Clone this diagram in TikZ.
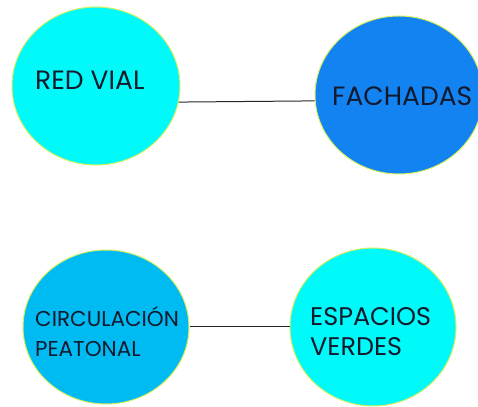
\documentclass[tikz,border=0pt]{standalone}
\usepackage{fontspec}
\setmainfont{Poppins}
\usepackage{tikz}
\usetikzlibrary{positioning,shapes.geometric}

\definecolor{ringcol}{HTML}{D8F060}
\definecolor{cyanfill}{HTML}{00FAFA}
\definecolor{bluefill}{HTML}{1283F0}
\definecolor{skyfill}{HTML}{00BBF2}
\definecolor{textcol}{HTML}{141A2E}

\begin{document}
\begin{tikzpicture}[
x=1pt, y=1pt,
bubble/.style={ellipse, draw=ringcol, line width=1pt, inner sep=0pt, minimum width=168pt, minimum height=158pt},
tag/.style={align=left, text=textcol, inner sep=0pt, font=\fontsize{26.5}{30}\selectfont},
smalltag/.style={tag, font=\fontsize{21.5}{30}\selectfont},
midtag/.style={tag, font=\fontsize{25.5}{30}\selectfont},
link/.style={draw=black!85, line width=1pt}
]
\useasboundingbox (0,0) rectangle (478,406);
\node[bubble, fill=cyanfill] (redvial) at (96,320) {};
\node[bubble, fill=bluefill] (fachadas) at (399,311) {};
\node[bubble, fill=skyfill, minimum width=166pt, minimum height=154pt] (circulacion) at (106,79) {};
\node[bubble, fill=cyanfill, minimum width=166pt, minimum height=158pt] (espacios) at (373,79) {};

\node[tag, anchor=west] (redvialtxt) at (35,326) {RED VIAL};
\node[tag, anchor=west] (fachadastxt) at (332,310) {FACHADAS};
\node[smalltag, anchor=west] (circulaciontxt) at (35,74) {CIRCULACIÓN\\PEATONAL};
\node[midtag, anchor=west] (espaciostxt) at (310,74) {ESPACIOS\\VERDES};

\draw[link] (redvial.-11) -- (fachadas.184);
\draw[link] (circulacion) -- (espacios);
\end{tikzpicture}
\end{document}
